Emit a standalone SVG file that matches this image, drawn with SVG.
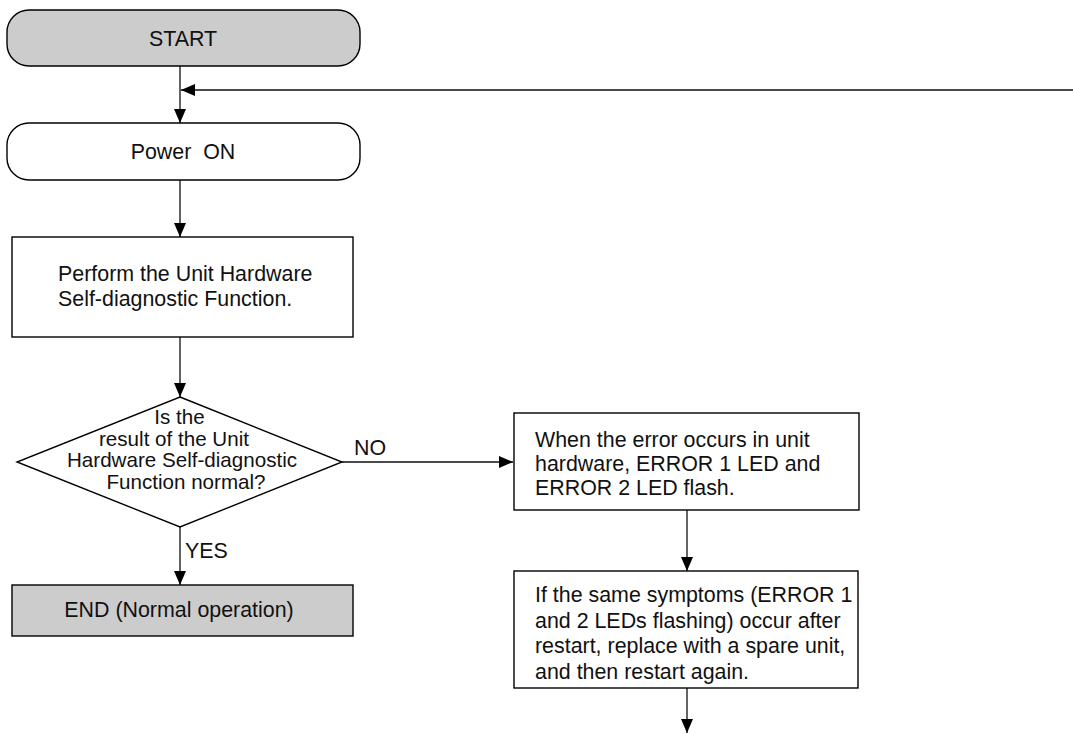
<svg xmlns="http://www.w3.org/2000/svg" width="1073" height="734" viewBox="0 0 1073 734">
  <style>
    .shape { stroke: #000; stroke-width: 1.4; }
    .plain { fill: #fff; }
    .shaded { fill: #cccccc; }
    .wire { fill: none; stroke: #111; stroke-width: 1.3; }
    text { font-family: "Liberation Sans", Arial, sans-serif; font-size: 21.4px; fill: #111; }
    .mid { text-anchor: middle; }
    .q { font-size: 20.6px; }
  </style>
  <defs>
    <marker id="arrow" viewBox="0 0 14 12" refX="14" refY="6" markerWidth="14" markerHeight="12" markerUnits="userSpaceOnUse" orient="auto">
      <path d="M0,0 L14,6 L0,12 Z" fill="#000"/>
    </marker>
  </defs>

  <!-- connectors -->
  <g id="connectors">
    <line class="wire" x1="180" y1="66" x2="180" y2="123" marker-end="url(#arrow)"/>
    <line class="wire" x1="1073" y1="90" x2="181" y2="90" marker-end="url(#arrow)"/>
    <line class="wire" x1="180" y1="180" x2="180" y2="237" marker-end="url(#arrow)"/>
    <line class="wire" x1="180" y1="337" x2="180" y2="397" marker-end="url(#arrow)"/>
    <line class="wire" x1="180" y1="527" x2="180" y2="585" marker-end="url(#arrow)"/>
    <line class="wire" x1="342" y1="462" x2="513" y2="462" marker-end="url(#arrow)"/>
    <line class="wire" x1="687" y1="510" x2="687" y2="571" marker-end="url(#arrow)"/>
    <line class="wire" x1="687" y1="688" x2="687" y2="733" marker-end="url(#arrow)"/>
    <text x="185" y="558">YES</text>
    <text x="354" y="455">NO</text>
  </g>

  <g id="start">
    <rect class="shape shaded" x="7" y="10" width="353" height="56" rx="22" ry="22"/>
    <text class="mid" x="183" y="46">START</text>
  </g>

  <g id="power-on">
    <rect class="shape plain" x="7" y="123" width="353" height="57" rx="22" ry="22"/>
    <text class="mid" x="183" y="159" xml:space="preserve">Power  ON</text>
  </g>

  <g id="self-diagnostic">
    <rect class="shape plain" x="12" y="237" width="341" height="100"/>
    <text x="58" y="281">Perform the Unit Hardware</text>
    <text x="58" y="306">Self-diagnostic Function.</text>
  </g>

  <g id="result-check">
    <polygon class="shape plain" points="180,397 342,462 180,527 17,462"/>
    <text class="mid q" x="179.5" y="424">Is the</text>
    <text class="mid q" x="174" y="445.5">result of the Unit</text>
    <text class="mid q" x="182" y="467">Hardware Self-diagnostic</text>
    <text class="mid q" x="186" y="488.5">Function normal?</text>
  </g>

  <g id="end">
    <rect class="shape shaded" x="12" y="585" width="341" height="51"/>
    <text class="mid" x="179" y="617">END (Normal operation)</text>
  </g>

  <g id="error-leds">
    <rect class="shape plain" x="514" y="413" width="345" height="97"/>
    <text x="535" y="447">When the error occurs in unit</text>
    <text x="535" y="471">hardware, ERROR 1 LED and</text>
    <text x="535" y="495">ERROR 2 LED flash.</text>
  </g>

  <g id="replace-unit">
    <rect class="shape plain" x="514" y="571" width="344" height="117"/>
    <text x="535" y="602">If the same symptoms (ERROR 1</text>
    <text x="535" y="627.5">and 2 LEDs flashing) occur after</text>
    <text x="535" y="653">restart, replace with a spare unit,</text>
    <text x="535" y="678.5">and then restart again.</text>
  </g>
</svg>
